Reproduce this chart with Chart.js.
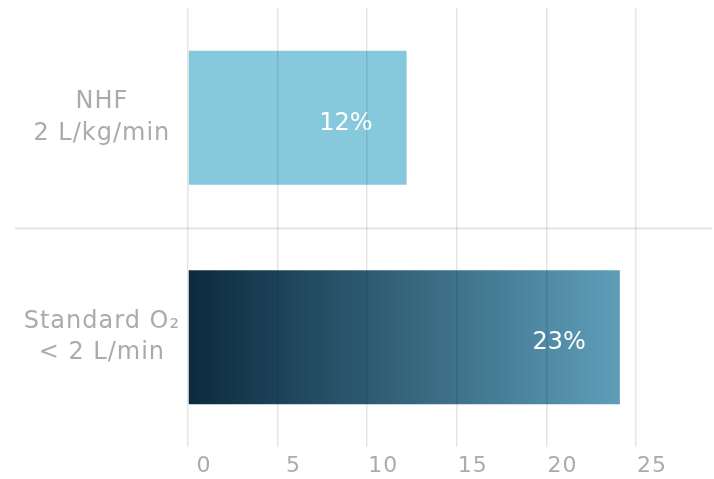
<!DOCTYPE html>
<html>
<head>
    <title>Oxygen Bar Chart</title>
    <script src="https://cdn.jsdelivr.net/npm/chart.js"></script>
    <style>
        html, body { margin: 0; padding: 0; background: #fff; }
        #wrap { width: 714px; height: 479px; }
    </style>
</head>
<body>
<div id="wrap"><canvas id="myChart"></canvas></div>
<script>
// chart data
var categories = [['NHF', '2 L/kg/min'], ['Standard O\u2082', '< 2 L/min']];
var barValues = [12.2, 24.1];
var barLabels = ['12%', '23%'];
var xTicks = [0, 5, 10, 15, 20, 25];

var fontName = '"DejaVu Sans", sans-serif';

// wider letters, closer to the original geometric font
var spacing = {
    id: 'spacing',
    beforeUpdate: function(chart) { chart.ctx.letterSpacing = '1px'; },
    beforeDraw: function(chart) { chart.ctx.letterSpacing = '1px'; }
};

// white % labels inside the bar ends
var barText = {
    id: 'barText',
    afterDatasetsDraw: function(chart) {
        var ctx = chart.ctx;
        var meta = chart.getDatasetMeta(0);
        ctx.save();
        ctx.letterSpacing = '0px';
        ctx.fillStyle = '#ffffff';
        ctx.font = '24px ' + fontName;
        ctx.textAlign = 'right';
        ctx.textBaseline = 'middle';
        meta.data.forEach(function(bar, i) {
            ctx.fillText(barLabels[i], bar.x - 34, bar.y + 6);
        });
        ctx.restore();
    }
};

// horizontal line between the two categories
var separator = {
    id: 'separator',
    beforeDatasetsDraw: function(chart) {
        var y = chart.scales.y;
        var yy = Math.round((y.getPixelForValue(0) + y.getPixelForValue(1)) / 2) + 0.5;
        var ctx = chart.ctx;
        ctx.save();
        ctx.strokeStyle = '#e6e6e6';
        ctx.lineWidth = 2;
        ctx.beginPath();
        ctx.moveTo(15, yy);
        ctx.lineTo(chart.width - 2, yy);
        ctx.stroke();
        ctx.restore();
    }
};

function barColor(context) {
    if (context.dataIndex === 0) return '#86c9dc';
    var chart = context.chart;
    if (!chart.chartArea) return '#2f5f78';
    var x = chart.scales.x;
    var g = chart.ctx.createLinearGradient(x.getPixelForValue(0), 0, x.getPixelForValue(barValues[1]), 0);
    g.addColorStop(0, '#0b2a3e');
    g.addColorStop(1, '#5e9eb9');
    return g;
}

var myChart = new Chart(document.getElementById('myChart'), {
    type: 'bar',
    data: {
        labels: categories,
        datasets: [{
            data: barValues,
            backgroundColor: barColor,
            borderWidth: 0,
            barPercentage: 0.61,
            categoryPercentage: 1
        }]
    },
    plugins: [spacing, separator, barText],
    options: {
        indexAxis: 'y',
        responsive: true,
        maintainAspectRatio: false,
        animation: false,
        layout: { padding: { top: 8, right: 78, left: 8, bottom: 0 } },
        plugins: {
            legend: { display: false },
            tooltip: { enabled: false }
        },
        scales: {
            x: {
                min: 0,
                max: 25,
                afterBuildTicks: function(axis) {
                    axis.ticks = xTicks.map(function(v) { return { value: v }; });
                },
                afterFit: function(scale) { scale.height = 32; },
                border: { display: false },
                grid: {
                    z: 1,
                    color: 'rgba(0,0,0,0.1)',
                    lineWidth: 1.5,
                    drawTicks: false
                },
                ticks: {
                    color: '#ababab',
                    font: { family: fontName, size: 22 },
                    padding: 6,
                    labelOffset: 16
                }
            },
            y: {
                afterFit: function(scale) {
                    scale.width = 180;
                    scale.paddingTop = 0;
                    scale.paddingBottom = 0;
                },
                border: { display: false },
                grid: { display: false },
                ticks: {
                    color: '#ababab',
                    font: { family: fontName, size: 24, lineHeight: 1.3 },
                    crossAlign: 'center',
                    padding: 0
                }
            }
        }
    }
});
</script>
</body>
</html>
